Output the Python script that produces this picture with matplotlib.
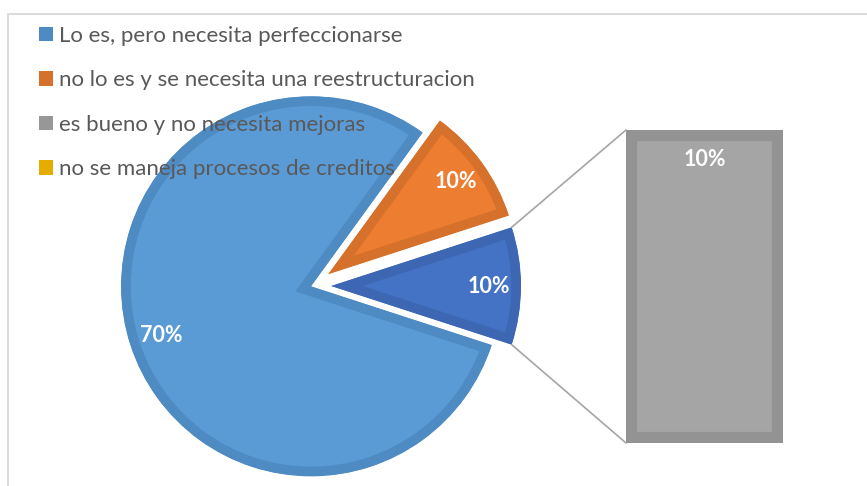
import numpy as np
import matplotlib.pyplot as plt
from matplotlib.patches import Patch, Rectangle, ConnectionPatch


# ---------- DATA ---------- #

categories = [
    "Lo es, pero necesita perfeccionarse",
    "no lo es y se necesita una reestructuracion",
    "es bueno y no necesita mejoras",
    "no se maneja procesos de creditos",
]

# slice sizes as drawn in the pie (main, second, "other" slice)
pie_sizes = [80, 10, 10]
pie_labels = ["70%", "10%", "10%"]

# the "other" slice split into the bar (bottom to top)
bar_values = [0, 10]          # no se maneja..., es bueno...
bar_label = "10%"

fills = ["#5B9BD5", "#ED7D31", "#A5A5A5", "#FFC000"]
borders = ["#4E8BC3", "#D6712B", "#939393", "#E6AC00"]
other_fill = "#4472C4"
other_border = "#3D67B3"


# ---------- FIGURE ---------- #

fig = plt.figure(figsize=(8.67, 4.86), dpi=100)
ax = fig.add_axes([0, 0, 1, 1])

wedges, texts = ax.pie(
    pie_sizes,
    labels=pie_labels,
    colors=[fills[0], fills[1], other_fill],
    startangle=-18,
    counterclock=False,
    explode=[1, 20, 19],
    center=(312, 200),
    radius=190,
    labeldistance=0.83,
    textprops=dict(color="white", fontsize=15.5, fontweight="bold",
                   family="Lato", ha="center", va="center"),
)

for w, ec in zip(wedges, [borders[0], borders[1], other_border]):
    w.set_edgecolor(ec)
    w.set_linewidth(14)
    w.set_clip_on(True)
    w.set_clip_path(w)

ax.set_xlim(0, 867)
ax.set_ylim(0, 486)
ax.axis("off")

# chart frame (only top and left edges visible)
ax.add_patch(Rectangle((8, -20), 900, 486 - 14 + 20, fill=False,
                       edgecolor="#D9D9D9", linewidth=1.3, zorder=0))


# ---------- BAR OF PIE ---------- #

bax = fig.add_axes([626 / 867, 43 / 486, 157 / 867, 313 / 486])
yellow = bax.bar(0, bar_values[0], width=1, color=fills[3],
                 edgecolor="#D8C48A", linewidth=1.5)
gray = bax.bar(0, bar_values[1], bottom=bar_values[0], width=1,
               color=fills[2], edgecolor=borders[2], linewidth=16)
for p in gray:
    p.set_clip_path(p)
bax.set_xlim(-0.5, 0.5)
bax.set_ylim(0, sum(bar_values))
bax.axis("off")

bax.annotate(bar_label, xy=(0, sum(bar_values)), xytext=(0, -30),
             textcoords="offset pixels", ha="center", va="center",
             color="white", fontsize=15.5, fontweight="bold", family="Lato")

# connector lines from the "other" slice to the bar
other = wedges[2]
for ang, yb in [(other.theta2, sum(bar_values)), (other.theta1, 0)]:
    cx = other.center[0] + other.r * np.cos(np.radians(ang))
    cy = other.center[1] + other.r * np.sin(np.radians(ang))
    con = ConnectionPatch(xyA=(cx, cy), coordsA=ax.transData,
                          xyB=(-0.5, yb), coordsB=bax.transData,
                          color="#A5A5A5", linewidth=1.2)
    fig.add_artist(con)


# ---------- LEGEND ---------- #

handles = [Patch(facecolor=c) for c in borders[:2] + ["#979797", "#E6AC00"]]
leg = ax.legend(handles, categories, loc="upper left",
                bbox_to_anchor=(39 / 867, 1 - 26 / 486),
                bbox_transform=fig.transFigure, frameon=False,
                borderpad=0, borderaxespad=0,
                handlelength=0.63, handleheight=0.63, handletextpad=0.27,
                labelspacing=1.1,
                prop=dict(family="Lato", size=16))
for t in leg.get_texts():
    t.set_color("#595959")
leg.set_zorder(10)

plt.savefig("out.png", dpi=100)
